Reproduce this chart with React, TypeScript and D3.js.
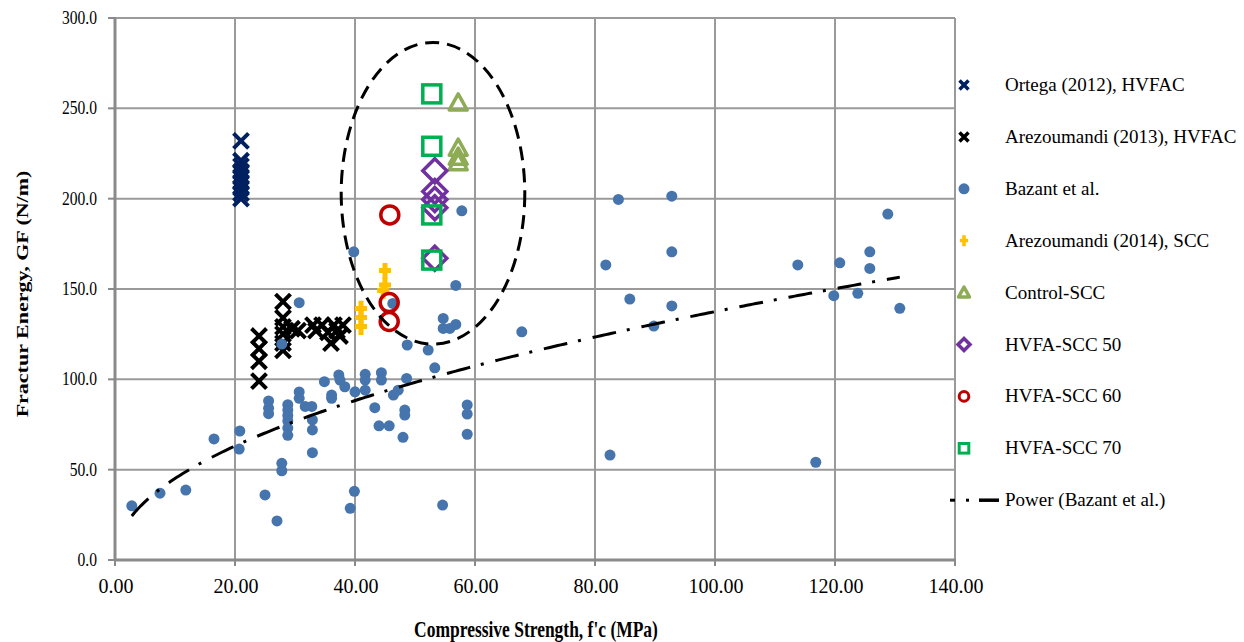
import React from "react";
import * as d3 from "d3";

const xTicks = [0, 20, 40, 60, 80, 100, 120, 140];
const yTicks = [0, 50, 100, 150, 200, 250, 300];

const ortega: [number, number][] = [
  [21, 232], [21, 221], [21, 218], [21, 215], [21, 212], [21, 209], [21, 206], [21, 203], [21, 200],
];

const arezoumandi2013: [number, number][] = [
  [24, 124], [24, 117], [24, 110], [24, 99],
  [28, 143], [28, 134], [28, 129], [28, 125], [28, 120], [28, 116],
  [29.5, 128], [30.5, 127],
  [33, 130], [33.5, 127], [34.5, 130], [35.5, 126], [36, 120], [36.5, 130], [37, 127], [37.5, 124], [38, 130],
];

const bazant: [number, number][] = [
  [2.8, 30], [7.5, 37], [11.8, 38.7], [16.5, 67], [20.8, 71.4], [20.7, 61.4], [25, 36], [27, 21.6],
  [25.6, 88], [25.6, 84], [25.6, 81],
  [27.8, 119.5], [30.7, 142.4], [27.8, 53.5], [27.8, 49.4],
  [28.8, 86], [28.8, 83], [28.8, 80], [28.8, 77], [28.8, 73], [28.8, 69],
  [30.7, 93], [30.7, 89.5], [31.7, 85], [32.8, 85], [32.9, 77.5], [32.9, 72], [32.9, 59.4],
  [34.9, 98.7], [36.1, 91.3], [36.1, 89.5], [37.3, 102.4], [37.5, 99.6], [38.3, 95.9],
  [40, 93.1], [39.9, 38], [39.2, 28.6],
  [56.8, 152], [46.3, 142], [54.7, 133.7], [54.7, 128.2], [56.8, 130.4], [55.8, 128.2], [67.8, 126.3],
  [48.7, 119], [52.2, 116.2], [53.3, 106.4],
  [41.7, 102.8], [41.7, 99.6], [41.7, 94], [44.4, 103.7], [44.4, 99.6], [48.6, 100.5], [46.4, 91.3], [47.2, 94],
  [43.3, 84.3], [48.3, 83], [48.3, 80.2], [44, 74.3], [45.7, 74.3], [48, 67.9],
  [58.7, 85.8], [58.7, 80.8], [58.7, 69.6], [54.6, 30.4],
  [57.8, 193.3], [39.8, 170.6],
  [83.9, 199.6], [92.8, 201.4], [81.8, 163.3], [92.8, 170.6], [85.8, 144.4], [92.8, 140.6], [89.8, 129.5], [82.5, 58.1],
  [113.8, 163.3], [120.8, 164.5], [125.8, 170.6], [125.8, 161.4], [128.8, 191.5], [119.8, 146.3], [123.8, 147.6],
  [130.8, 139.3], [116.8, 54.1],
];

const arezoumandi2014: [number, number][] = [
  [45, 160], [45, 152], [44.7, 149], [41, 139], [41, 134], [41, 129],
];
const controlSCC: [number, number][] = [[57.2, 253], [57.2, 228], [57.2, 223], [57.2, 220]];
const hvfa50: [number, number][] = [[53.3, 215.5], [53.3, 204], [53.3, 199.5], [53.3, 195], [53.3, 167]];
const hvfa60: [number, number][] = [[45.8, 191], [45.7, 142.5], [45.7, 132]];
const hvfa70: [number, number][] = [[52.8, 258], [52.8, 229], [52.8, 191], [52.8, 166]];

// Power trendline (Bazant et al.) coefficients: y = a * x^b
const powerA = 14.8;
const powerB = 0.484;
const powerRange = [2.8, 130.8];

// Dashed ellipse highlighting the SCC results (data units)
const ellipse = { cx: 53, cy: 203, rx: 15.3, ry: 83.5 };

const legendItems = [
  { label: "Ortega (2012), HVFAC", type: "x", color: "#002060" },
  { label: "Arezoumandi (2013), HVFAC", type: "x", color: "#000000" },
  { label: "Bazant et al.", type: "dot", color: "#4674AD" },
  { label: "Arezoumandi (2014), SCC", type: "plus", color: "#FFC000" },
  { label: "Control-SCC", type: "tri", color: "#8EAB55" },
  { label: "HVFA-SCC 50", type: "diamond", color: "#7030A0" },
  { label: "HVFA-SCC 60", type: "circle", color: "#C00000" },
  { label: "HVFA-SCC 70", type: "square", color: "#00B050" },
  { label: "Power (Bazant et al.)", type: "line", color: "#000000" },
];

const FONT = "'Liberation Serif', 'Times New Roman', serif";

function Marker({ type, color, s, x, y, w }: { type: string; color: string; s: number; x: number; y: number; w: number }) {
  const t = `translate(${x},${y})`;
  if (type === "x") {
    return (
      <path transform={t} d={`M${-s},${-s}L${s},${s}M${-s},${s}L${s},${-s}`} stroke={color} strokeWidth={w} fill="none" />
    );
  }
  if (type === "dot") return <circle cx={x} cy={y} r={s} fill={color} />;
  if (type === "plus") {
    return (
      <path transform={t} d={`M0,${-s}L0,${s}M${-s * 0.75},${-s * 0.05}L${s * 0.75},${-s * 0.05}`} stroke={color} strokeWidth={w} fill="none" />
    );
  }
  if (type === "tri") {
    return (
      <path transform={t} d={`M0,${-s}L${s},${s * 0.8}L${-s},${s * 0.8}Z`} stroke={color} strokeWidth={w} fill="none" strokeLinejoin="round" />
    );
  }
  if (type === "diamond") {
    return <path transform={t} d={`M0,${-s}L${s},0L0,${s}L${-s},0Z`} stroke={color} strokeWidth={w} fill="none" />;
  }
  if (type === "circle") return <circle cx={x} cy={y} r={s} stroke={color} strokeWidth={w} fill="none" />;
  if (type === "square") {
    return <rect x={x - s} y={y - s} width={2 * s} height={2 * s} stroke={color} strokeWidth={w} fill="none" />;
  }
  return null;
}

export default function App() {
  const W = 1244;
  const H = 642;
  const x = d3.scaleLinear().domain([0, 140]).range([115, 955]);
  const y = d3.scaleLinear().domain([0, 300]).range([560, 18]);

  const trend = d3.range(powerRange[0], powerRange[1] + 0.001, 0.5).map((v) => [v, powerA * Math.pow(v, powerB)] as [number, number]);
  const trendPath = d3
    .line<[number, number]>()
    .x((d) => x(d[0]))
    .y((d) => y(d[1]))(trend) as string;

  const series: { data: [number, number][]; type: string; color: string; s: number; w: number }[] = [
    { data: ortega, type: "x", color: "#002060", s: 7.5, w: 4 },
    { data: arezoumandi2013, type: "x", color: "#000000", s: 7.5, w: 4 },
    { data: bazant, type: "dot", color: "#4674AD", s: 5.5, w: 0 },
    { data: arezoumandi2014, type: "plus", color: "#FFC000", s: 8, w: 5 },
    { data: controlSCC, type: "tri", color: "#8EAB55", s: 9, w: 3.5 },
    { data: hvfa50, type: "diamond", color: "#7030A0", s: 12, w: 3.5 },
    { data: hvfa60, type: "circle", color: "#C00000", s: 9, w: 3.5 },
    { data: hvfa70, type: "square", color: "#00B050", s: 9, w: 3.5 },
  ];

  const legendSize: Record<string, [number, number]> = {
    x: [4.5, 3.5],
    dot: [5.5, 0],
    plus: [5.5, 3.5],
    tri: [5.5, 3.5],
    diamond: [6, 3.5],
    circle: [4.8, 3],
    square: [4.8, 3],
  };

  const gridColor = "#9A9A9A";
  const axisColor = "#8A8A8A";

  return (
    <svg width={W} height={H} style={{ position: "absolute", left: 0, top: 0, background: "#fff" }} fontFamily={FONT}>
      <rect x={0} y={0} width={W} height={H} fill="#fff" />
      {/* gridlines */}
      {yTicks.filter((t) => t > 0).map((t) => (
        <line key={"gy" + t} x1={x(0)} x2={x(140)} y1={y(t)} y2={y(t)} stroke={gridColor} strokeWidth={2} />
      ))}
      {xTicks.filter((t) => t > 0).map((t) => (
        <line key={"gx" + t} x1={x(t)} x2={x(t)} y1={y(0)} y2={y(300)} stroke={gridColor} strokeWidth={2} />
      ))}
      {/* axes */}
      <line x1={x(0)} x2={x(0)} y1={y(0) + 1} y2={y(300) - 1} stroke={axisColor} strokeWidth={3} />
      <line x1={x(0) - 1} x2={x(140) + 1} y1={y(0)} y2={y(0)} stroke={axisColor} strokeWidth={3} />
      {yTicks.map((t) => (
        <line key={"ty" + t} x1={x(0) - 7} x2={x(0)} y1={y(t)} y2={y(t)} stroke={axisColor} strokeWidth={2} />
      ))}
      {xTicks.map((t) => (
        <line key={"tx" + t} x1={x(t)} x2={x(t)} y1={y(0)} y2={y(0) + 6} stroke={axisColor} strokeWidth={2} />
      ))}
      {yTicks.map((t) => (
        <text
          key={"ly" + t}
          transform={`translate(97,${y(t) + 6}) scale(0.82,1)`}
          textAnchor="end"
          fontSize={19}
          fill="#000"
        >
          {t.toFixed(1)}
        </text>
      ))}
      {xTicks.map((t) => (
        <text key={"lx" + t} x={x(t) + 1} y={593} textAnchor="middle" fontSize={20} fill="#000">
          {t.toFixed(2)}
        </text>
      ))}
      <text transform="translate(536,637) scale(0.76,1)" textAnchor="middle" fontSize={23} fontWeight="bold" fill="#000">
        Compressive Strength, f'c (MPa)
      </text>
      <text
        transform="translate(28,294) scale(0.75,1) rotate(-90)"
        textAnchor="middle"
        fontSize={22}
        fontWeight="bold"
        fill="#000"
      >
        Fractur Energy, GF (N/m)
      </text>

      {/* series */}
      {series.map((se, i) => (
        <g key={"s" + i}>
          {se.data.map((d, j) => (
            <Marker key={j} type={se.type} color={se.color} s={se.s} w={se.w} x={x(d[0])} y={y(d[1])} />
          ))}
        </g>
      ))}

      {/* trendline */}
      <path d={trendPath} fill="none" stroke="#000" strokeWidth={3} strokeDasharray="24,11,3,12" />

      {/* ellipse */}
      <ellipse
        cx={x(ellipse.cx)}
        cy={y(ellipse.cy)}
        rx={x(ellipse.cx + ellipse.rx) - x(ellipse.cx)}
        ry={y(ellipse.cy - ellipse.ry) - y(ellipse.cy)}
        fill="none"
        stroke="#000"
        strokeWidth={3}
        strokeDasharray="14,8"
      />

      {/* legend */}
      {legendItems.map((it, i) => {
        const ly = 85 + i * 51.9;
        return (
          <g key={"lg" + i}>
            {it.type === "line" ? (
              <g>
                <line x1={950} x2={955} y1={ly} y2={ly} stroke="#000" strokeWidth={3} />
                <line x1={966} x2={969} y1={ly} y2={ly} stroke="#000" strokeWidth={3} />
                <line x1={979} x2={999} y1={ly} y2={ly} stroke="#000" strokeWidth={3.5} />
              </g>
            ) : (
              <Marker
                type={it.type}
                color={it.color}
                s={legendSize[it.type][0]}
                w={legendSize[it.type][1]}
                x={964}
                y={ly}
              />
            )}
            <text x={1005} y={ly + 6} fontSize={19} fill="#000">
              {it.label}
            </text>
          </g>
        );
      })}
    </svg>
  );
}
